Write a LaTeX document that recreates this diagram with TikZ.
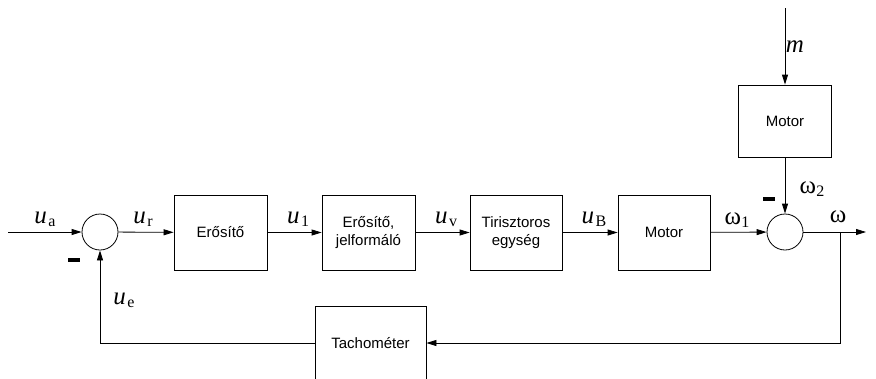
\documentclass[tikz,border=0pt]{standalone}
\usepackage{fontspec}
\setmainfont{Liberation Serif}
\newfontfamily\boxfont{Liberation Sans}
\usetikzlibrary{arrows.meta}
\tikzset{
  blk/.style={draw, line width=0.8pt, minimum width=93pt, minimum height=75pt, inner sep=0pt, align=center, font=\boxfont\fontsize{15}{18}\selectfont},
  sumc/.style={draw, line width=0.8pt, circle, minimum size=36pt, inner sep=0pt},
  sig/.style={line width=0.8pt, -{Triangle[length=10pt,width=6pt]}},
  lbl/.style={inner sep=0pt, font=\fontsize{25}{27}\selectfont},
  minus/.style={fill=black, minimum width=12pt, minimum height=3.5pt, inner sep=0pt}
}
\newcommand{\uvar}[1]{\textit{u}\kern1.5pt\raisebox{-3pt}{\fontsize{16}{17}\selectfont #1}}
\newcommand{\wvar}[1]{ω\kern0.5pt\raisebox{-3pt}{\fontsize{16}{17}\selectfont #1}}
\begin{document}
\begin{tikzpicture}[x=1pt,y=-1pt]
\useasboundingbox (0,0) rectangle (876,378);
\node[sumc] (s1) at (100,232) {};
\node[blk] (e1) at (220.5,232.5) {Erősítő};
\node[blk] (e2) at (368.5,232.5) {Erősítő,\\jelformáló};
\node[blk, minimum width=92pt] (tir) at (516,232.5) {Tirisztoros\\egység};
\node[blk, minimum width=92pt] (mot) at (664,232.5) {Motor};
\node[sumc] (s2) at (785,232) {};
\node[blk, minimum height=72pt] (mot2) at (785,121) {Motor};
\node[blk, minimum width=111pt, minimum height=74pt] (tach) at (370.5,343) {Tachométer};
\coordinate (in) at (8,232);
\coordinate (out) at (866,232);
\coordinate (br) at (840,232);
\coordinate (mtop) at (785,8);

\draw[sig] (in) -- (s1);
\draw[sig] (s1) -- (e1);
\draw[sig] (e1) -- (e2);
\draw[sig] (e2) -- (tir);
\draw[sig] (tir) -- (mot);
\draw[sig] (mot) -- (s2);
\draw[sig] (s2) -- (out);
\draw[sig] (mtop) -- (mot2);
\draw[sig] (mot2) -- (s2);
\draw[sig] (br) |- (tach.east);
\draw[sig] (tach.west) -| (s1.south);

\node[lbl] (la) at (45,219) {\uvar{a}};
\node[lbl] (lr) at (143,219) {\uvar{r}};
\node[lbl] (l1) at (298,219) {\uvar{1}};
\node[lbl] (lv) at (446,219) {\uvar{v}};
\node[lbl] (lB) at (594,219) {\uvar{B}};
\node[lbl] (lw1) at (737,220) {\wvar{1}};
\node[lbl] (lw) at (838,217) {ω};
\node[lbl] (lw2) at (812,189) {\wvar{2}};
\node[lbl] (lm) at (795,47) {\textit{m}};
\node[lbl] (le) at (124,300) {\uvar{e}};
\node[minus] (m1) at (74,260) {};
\node[minus] (m2) at (769,199) {};
\end{tikzpicture}
\end{document}
